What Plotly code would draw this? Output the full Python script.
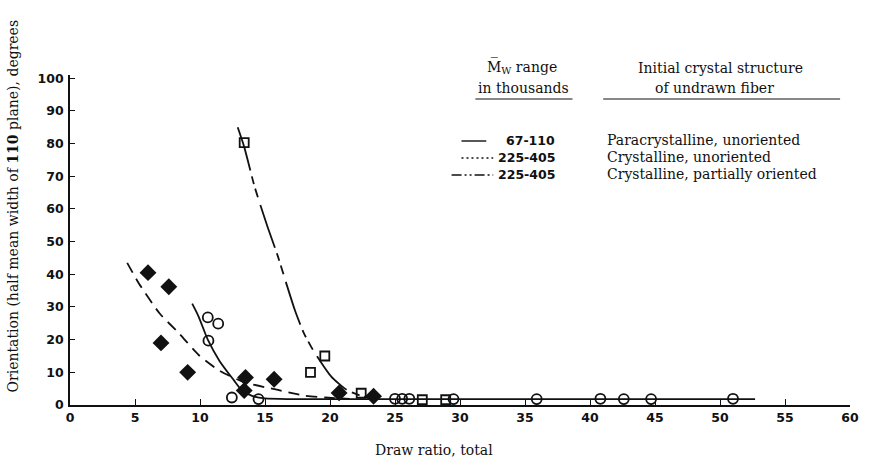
import plotly.graph_objects as go

# ---- measured data (draw ratio, orientation in degrees) ----
# open circles: Mw 67-110, paracrystalline, unoriented
circle_x = [10.6, 11.4, 10.65, 12.45, 14.5, 25.0, 25.55, 26.1, 29.5, 35.9, 40.8, 42.6, 44.7, 51.0]
circle_y = [26.8, 24.9, 19.7, 2.3, 1.8, 1.9, 1.9, 1.9, 1.8, 1.8, 1.9, 1.8, 1.8, 1.9]

# filled diamonds: Mw 225-405, crystalline, unoriented
diamond_x = [6.0, 7.6, 7.0, 9.05, 13.5, 13.4, 15.7, 20.7, 23.35]
diamond_y = [40.5, 36.2, 19.0, 10.0, 8.4, 4.4, 7.9, 3.7, 2.7]

# open squares: Mw 225-405, crystalline, partially oriented
square_x = [13.4, 19.6, 18.5, 22.4, 27.1, 28.9]
square_y = [80.3, 15.0, 10.0, 3.6, 1.6, 1.6]

# ---- fitted trend curves ----
solid_x = [9.4, 9.9, 10.6, 11.5, 12.6, 13.2, 14.0, 15.0, 17.0, 25.0, 40.0, 52.7]
solid_y = [31.0, 27.0, 20.0, 13.5, 7.6, 4.6, 2.8, 2.0, 1.8, 1.8, 1.8, 1.8]

dashed_x = [4.4, 5.3, 6.9, 8.4, 9.9, 11.5, 13.4, 16.0, 18.0, 19.6, 21.5]
dashed_y = [43.5, 37.2, 28.0, 21.9, 15.3, 10.5, 7.0, 4.6, 2.9, 2.3, 1.9]

dashdot_x = [12.9, 13.4, 14.2, 15.2, 16.0, 16.6, 17.3, 18.0, 18.7, 20.1, 21.3, 22.4, 23.5]
dashdot_y = [85.0, 79.0, 66.8, 54.5, 45.4, 37.7, 29.0, 21.9, 16.8, 8.7, 4.6, 2.8, 2.0]

# legend entries
legend_ranges = ["67-110", "225-405", "225-405"]
legend_structs = ["Paracrystalline, unoriented",
                  "Crystalline, unoriented",
                  "Crystalline, partially oriented"]

x_ticks = [0, 5, 10, 15, 20, 25, 30, 35, 40, 45, 50, 55, 60]
y_ticks = [0, 10, 20, 30, 40, 50, 60, 70, 80, 90, 100]

INK = "#111111"
SERIF = "DejaVu Serif"

W, H = 871, 463
ML, MR, MT, MB = 70, 14, 75, 58
PW, PH = W - ML - MR, H - MT - MB


def px(x):
    return (x - ML) / PW


def py(y):
    return (H - MB - y) / PH


fig = go.Figure()

curve_dashes = ["solid", "11px,7px", "45px,6px,8px,5px,9px,8px"]
for cx, cy, dash in [(solid_x, solid_y, curve_dashes[0]),
                     (dashed_x, dashed_y, curve_dashes[1]),
                     (dashdot_x, dashdot_y, curve_dashes[2])]:
    fig.add_trace(go.Scatter(x=cx, y=cy, mode="lines", showlegend=False,
                             line=dict(color=INK, width=1.8, dash=dash,
                                       shape="spline", smoothing=0.6),
                             hoverinfo="skip"))

fig.add_trace(go.Scatter(x=circle_x, y=circle_y, mode="markers", showlegend=False,
                         marker=dict(symbol="circle-open", size=10, color=INK,
                                     line=dict(width=1.8, color=INK))))
fig.add_trace(go.Scatter(x=square_x, y=square_y, mode="markers", showlegend=False,
                         marker=dict(symbol="square-open", size=9, color=INK,
                                     line=dict(width=1.8, color=INK))))
fig.add_trace(go.Scatter(x=diamond_x, y=diamond_y, mode="markers", showlegend=False,
                         marker=dict(symbol="diamond", size=13, color=INK,
                                     line=dict(width=0))))

annotations = []
shapes = []

# headers of the key
hdr_font = dict(family=SERIF, size=14, color=INK)
annotations += [
    dict(x=px(526), y=py(78), text="M\u0305<sub>W</sub> range", showarrow=False,
         xref="paper", yref="paper", xanchor="center", yanchor="bottom", font=hdr_font),
    dict(x=px(528), y=py(78), text="in thousands", showarrow=False,
         xref="paper", yref="paper", xanchor="center", yanchor="top", font=hdr_font),
    dict(x=px(726), y=py(78), text="Initial crystal structure", showarrow=False,
         xref="paper", yref="paper", xanchor="center", yanchor="bottom", font=hdr_font),
    dict(x=px(720), y=py(78), text="of undrawn fiber", showarrow=False,
         xref="paper", yref="paper", xanchor="center", yanchor="top", font=hdr_font),
]
for x0, x1 in [(479, 577), (608, 847)]:
    shapes.append(dict(type="line", xref="paper", yref="paper",
                       x0=px(x0), x1=px(x1), y0=py(99), y1=py(99),
                       line=dict(color=INK, width=1.2)))

row_y = [140, 157, 174]
sample_x = [(465, 490), (465, 497), (455, 497)]
sample_dash = ["solid", "2px,3px", "10px,3px,2px,3px,2px,3px"]
for i in range(3):
    shapes.append(dict(type="line", xref="paper", yref="paper",
                       x0=px(sample_x[i][0]), x1=px(sample_x[i][1]),
                       y0=py(row_y[i] + 1), y1=py(row_y[i] + 1),
                       line=dict(color=INK, width=1.4, dash=sample_dash[i])))
    annotations.append(dict(x=px(561), y=py(row_y[i]), text="<b>" + legend_ranges[i] + "</b>",
                            showarrow=False, xref="paper", yref="paper",
                            xanchor="right", yanchor="middle",
                            font=dict(family="DejaVu Sans", size=12.5, color=INK)))
    annotations.append(dict(x=px(610), y=py(row_y[i]), text=legend_structs[i],
                            showarrow=False, xref="paper", yref="paper",
                            xanchor="left", yanchor="middle", font=hdr_font))

# axis titles
annotations.append(dict(x=px(437), y=py(450), text="Draw ratio, total", showarrow=False,
                        xref="paper", yref="paper", xanchor="center", yanchor="middle",
                        font=dict(family=SERIF, size=14, color=INK)))
annotations.append(dict(x=px(12), y=py(206),
                        text="Orientation (half mean width of <b>110</b> plane), degrees",
                        showarrow=False, textangle=-90,
                        xref="paper", yref="paper", xanchor="center", yanchor="middle",
                        font=dict(family=SERIF, size=14, color=INK)))

tick_font = dict(family="DejaVu Sans", size=12.5, color=INK, weight="bold")

fig.update_layout(
    width=W, height=H,
    margin=dict(l=ML, r=MR, t=MT, b=MB),
    paper_bgcolor="white", plot_bgcolor="white",
    xaxis=dict(range=[0, 60], tickvals=x_ticks, ticktext=[str(v) for v in x_ticks],
               showgrid=False, zeroline=False, showline=True, linecolor=INK, linewidth=1.6,
               ticks="inside", ticklen=6, tickwidth=1.4, tickcolor=INK,
               tickfont=tick_font),
    yaxis=dict(range=[0, 101], tickvals=y_ticks, ticktext=[str(v) for v in y_ticks],
               showgrid=False, zeroline=False, showline=True, linecolor=INK, linewidth=1.6,
               ticks="inside", ticklen=5, tickwidth=1.4, tickcolor=INK,
               tickfont=tick_font, ticklabelstandoff=2),
    annotations=annotations,
    shapes=shapes,
)

fig.write_html("out.html")
